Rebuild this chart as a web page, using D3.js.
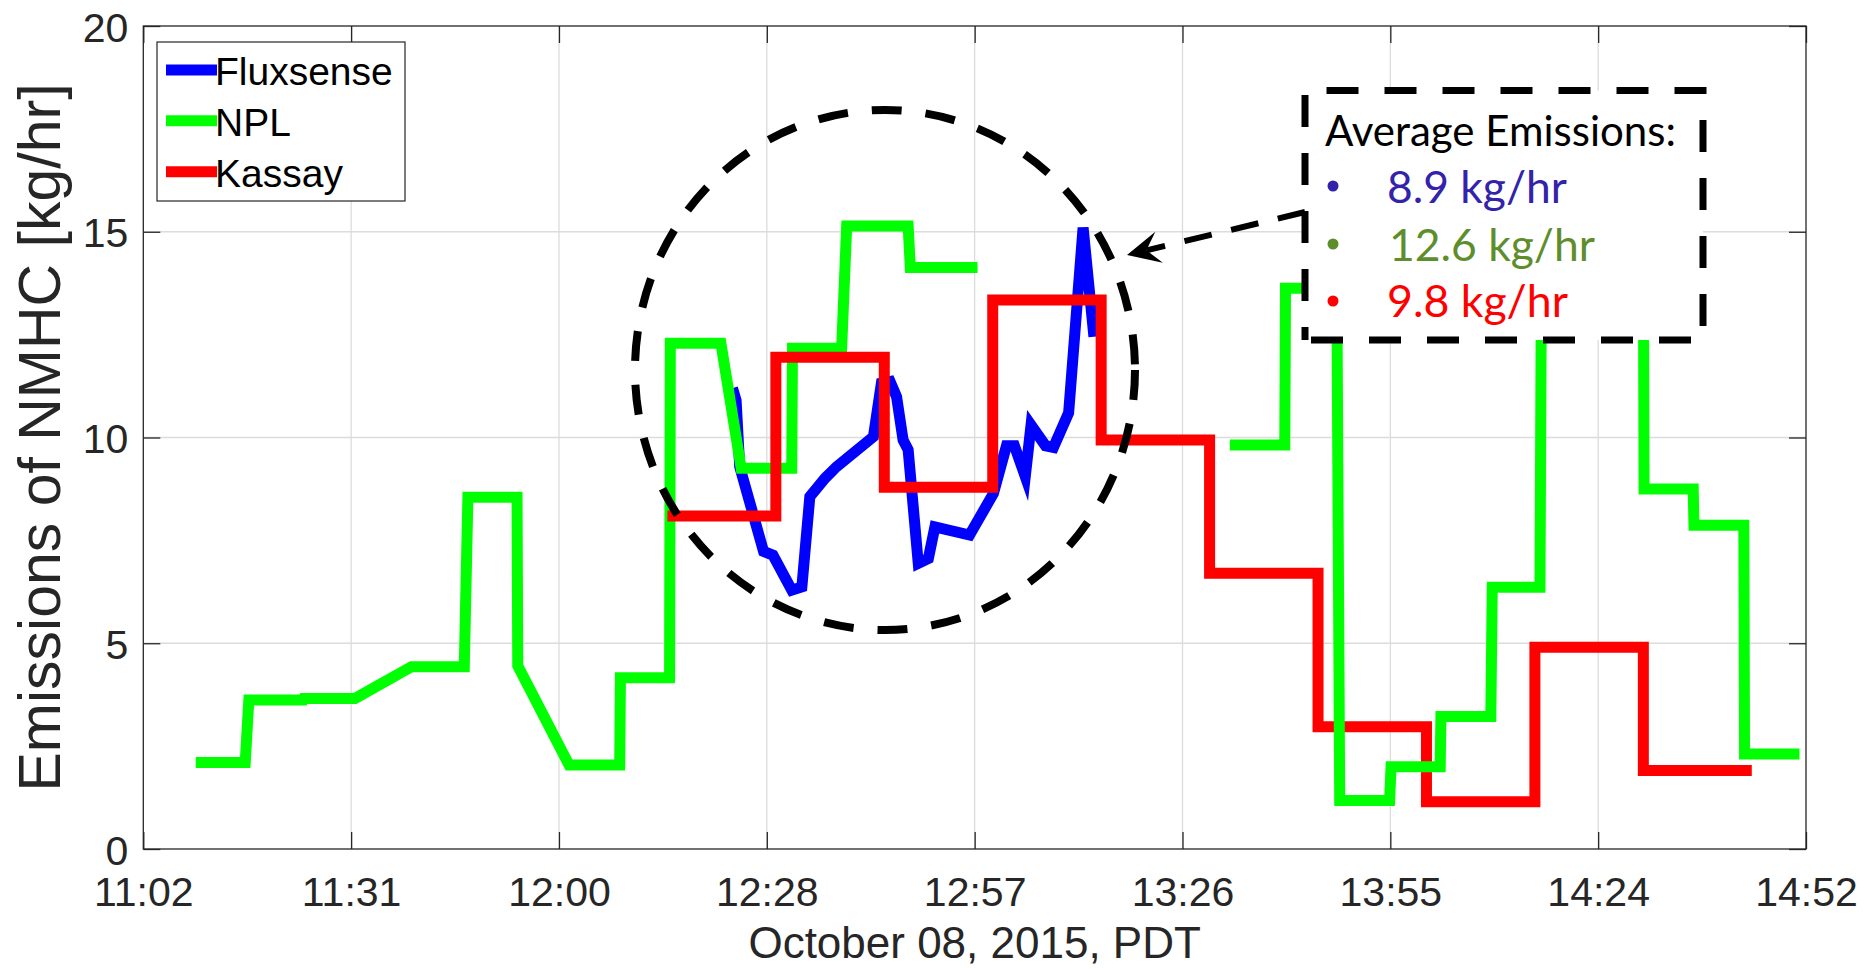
<!DOCTYPE html>
<html>
<head>
<meta charset="utf-8">
<script src="https://cdn.jsdelivr.net/npm/d3@7"></script>
<style>
  body { margin: 0; background: #fff; }
  svg { display: block; }
</style>
</head>
<body>
<svg id="svg" width="1867" height="969"></svg>
<script>
// times are minutes after 11:00 PDT, Oct 08 2015; values in kg/hr
var fluxTime = [84.0, 84.5, 85.0, 88.3, 89.6, 92.2, 93.6, 94.7, 96.8, 98.4, 103.5, 104.6, 105.8, 106.7, 107.6, 108.3, 109.7, 111.1, 112.0, 116.8, 120.1, 121.9, 123.0, 124.5, 125.3, 127.3, 128.4, 130.5, 132.5, 134.0];
var fluxValue = [11.2, 10.9, 9.29, 7.23, 7.14, 6.29, 6.37, 8.56, 9.01, 9.29, 10.02, 11.32, 11.36, 10.99, 9.94, 9.70, 6.94, 7.06, 7.83, 7.63, 8.64, 9.8, 9.8, 9.05, 10.3, 9.8, 9.76, 10.6, 15.1, 12.45];

// NPL comes in two pieces (gap between them)
var nplTimeA = [9.75, 16.6, 17.1, 24.6, 24.7, 31.8, 39.6, 46.9, 47.4, 54.2, 54.3, 61.4, 68.4, 68.5, 75.3, 75.4, 82.4, 85.2, 92.2, 92.3, 99.1, 99.8, 108.3, 108.6, 117.9];
var nplValueA = [2.10, 2.10, 3.62, 3.62, 3.66, 3.66, 4.43, 4.43, 8.55, 8.55, 4.45, 2.04, 2.04, 4.16, 4.16, 12.29, 12.29, 9.25, 9.25, 12.17, 12.17, 15.14, 15.14, 14.13, 14.13];
var nplTimeB = [152.8, 160.4, 160.5, 167.6, 168.0, 174.9, 175.1, 181.9, 182.0, 188.9, 189.1, 195.7, 195.9, 202.9, 203.0, 210.0, 210.1, 216.9, 217.0, 223.9, 224.0, 231.6];
var nplValueB = [9.82, 9.82, 13.63, 13.63, 1.18, 1.18, 2.0, 2.0, 3.22, 3.22, 6.36, 6.36, 13.9, 13.9, 14.6, 14.6, 8.75, 8.75, 7.87, 7.87, 2.31, 2.31];

// Kassay: 15 minute blocks
var kassayEdges = [75, 90, 105, 120, 135, 150, 165, 180, 195, 210, 225];
var kassayValue = [8.09, 11.95, 8.79, 13.34, 9.94, 6.70, 2.97, 1.15, 4.90, 1.91];

var seriesNames = ["Fluxsense", "NPL", "Kassay"];
var seriesColors = ["#0000ff", "#00ff00", "#ff0000"];
var averageText = ["8.9 kg/hr", "12.6 kg/hr", "9.8 kg/hr"];
var averageColors = ["#3322aa", "#5e8e2c", "#ff0000"];

var yTicks = [0, 5, 10, 15, 20];
var xTickLabels = ["11:02", "11:31", "12:00", "12:28", "12:57", "13:26", "13:55", "14:24", "14:52"];
var axisStart = 2.5, axisEnd = 232.5; // minutes after 11:00

var t0 = new Date(2015, 9, 8, 11, 0, 0);
function toDate(m){ return new Date(t0.getTime() + m * 60000); }

var svg = d3.select("#svg");
var plotL = 143.3, plotR = 1806, plotT = 26, plotB = 849;
var ink = "#262626";

var x = d3.scaleTime().domain([toDate(axisStart), toDate(axisEnd)]).range([plotL, plotR]);
var y = d3.scaleLinear().domain([0, 20]).range([plotB, plotT]);
var xTickVals = xTickLabels.map(function(d, i){ return toDate(axisStart + i * (axisEnd - axisStart) / (xTickLabels.length - 1)); });

svg.append("rect").attr("width", 1867).attr("height", 969).attr("fill", "#fff");

// grid
var grid = svg.append("g").attr("stroke", "#dcdcdc").attr("stroke-width", 1.3);
grid.selectAll("line.gx").data(xTickVals.slice(1, -1)).enter().append("line")
  .attr("x1", function(d){ return x(d); }).attr("x2", function(d){ return x(d); })
  .attr("y1", plotT).attr("y2", plotB);
grid.selectAll("line.gy").data(yTicks.slice(1, -1)).enter().append("line")
  .attr("y1", function(d){ return y(d); }).attr("y2", function(d){ return y(d); })
  .attr("x1", plotL).attr("x2", plotR);

// axes (ticks inward on all four sides)
var tl = 17;
function styleAxis(g){
  g.selectAll(".domain").remove();
  g.selectAll(".tick line").attr("stroke", ink).attr("stroke-width", 1.3);
  g.selectAll(".tick text").attr("fill", ink).attr("font-family", "'Liberation Sans', Arial, sans-serif").attr("font-size", 41);
}
var xAxis = svg.append("g").attr("transform", "translate(0," + plotB + ")")
  .call(d3.axisBottom(x).tickValues(xTickVals).tickSize(-tl).tickPadding(0)
    .tickFormat(function(d, i){ return xTickLabels[i]; }));
styleAxis(xAxis);
xAxis.selectAll(".tick text").attr("y", 57).attr("dy", null);
svg.append("g").attr("transform", "translate(0," + plotT + ")")
  .call(d3.axisTop(x).tickValues(xTickVals).tickSize(-tl).tickFormat(""))
  .call(styleAxis);
var yAxis = svg.append("g").attr("transform", "translate(" + plotL + ",0)")
  .call(d3.axisLeft(y).tickValues(yTicks).tickSize(-tl).tickPadding(0));
styleAxis(yAxis);
yAxis.selectAll(".tick text").attr("x", -15).attr("dy", 15);
svg.append("g").attr("transform", "translate(" + plotR + ",0)")
  .call(d3.axisRight(y).tickValues(yTicks).tickSize(-tl).tickFormat(""))
  .call(styleAxis);

// data lines
var plot = svg.append("g");
var line = d3.line().x(function(d){ return x(toDate(d[0])); }).y(function(d){ return y(d[1]); });
function pairs(t, v){ return t.map(function(d, i){ return [d, v[i]]; }); }
function drawLine(pts, color, curve){
  plot.append("path").datum(pts)
    .attr("d", line.curve(curve || d3.curveLinear)(pts))
    .attr("fill", "none").attr("stroke", color).attr("stroke-width", 11)
    .attr("stroke-linejoin", "miter").attr("stroke-miterlimit", 10);
}
var kassayPts = pairs(kassayEdges.slice(0, -1), kassayValue);
kassayPts.push([kassayEdges[kassayEdges.length - 1], kassayValue[kassayValue.length - 1]]);

drawLine(pairs(fluxTime, fluxValue), seriesColors[0]);
drawLine(pairs(nplTimeA, nplValueA), seriesColors[1]);
drawLine(kassayPts, seriesColors[2], d3.curveStepAfter);
drawLine(pairs(nplTimeB, nplValueB), seriesColors[1]);

// axis box
svg.append("rect").attr("x", plotL).attr("y", plotT).attr("width", plotR - plotL).attr("height", plotB - plotT)
  .attr("fill", "none").attr("stroke", ink).attr("stroke-width", 1.3);

// axis labels
svg.append("text").attr("x", (plotL + plotR) / 2).attr("y", 958).attr("text-anchor", "middle")
  .attr("font-family", "'Liberation Sans', Arial, sans-serif").attr("font-size", 44).attr("fill", ink)
  .text("October 08, 2015, PDT");
svg.append("text").attr("transform", "translate(60," + (plotT + plotB) / 2 + ") rotate(-90)")
  .attr("text-anchor", "middle")
  .attr("font-family", "'Liberation Sans', Arial, sans-serif").attr("font-size", 59).attr("fill", ink)
  .text("Emissions of NMHC [kg/hr]");

// legend
var lg = svg.append("g");
lg.append("rect").attr("x", 157).attr("y", 42).attr("width", 248).attr("height", 159)
  .attr("fill", "#fff").attr("stroke", ink).attr("stroke-width", 1.2);
var rowY = [70, 120.7, 171.7];
seriesNames.forEach(function(name, i){
  lg.append("line").attr("x1", 166).attr("x2", 217).attr("y1", rowY[i]).attr("y2", rowY[i])
    .attr("stroke", seriesColors[i]).attr("stroke-width", 11);
  lg.append("text").attr("x", 215).attr("y", rowY[i] + 15)
    .attr("font-family", "'Liberation Sans', Arial, sans-serif").attr("font-size", 39).attr("fill", "#000")
    .text(name);
});

// annotations
var ann = svg.append("g");
ann.append("ellipse").attr("cx", 885).attr("cy", 370).attr("rx", 250).attr("ry", 260)
  .attr("fill", "none").attr("stroke", "#000").attr("stroke-width", 8).attr("stroke-dasharray", "30 24");

var a0 = [1305, 212], a1 = [1127, 255];
var dx = a1[0] - a0[0], dy = a1[1] - a0[1], len = Math.sqrt(dx * dx + dy * dy);
var ux = dx / len, uy = dy / len, nx = -uy, ny = ux;
function pt(back, side){ return [a1[0] - ux * back + nx * side, a1[1] - uy * back + ny * side]; }
var notch = pt(20, 0);
ann.append("line").attr("x1", a0[0]).attr("y1", a0[1]).attr("x2", notch[0]).attr("y2", notch[1])
  .attr("stroke", "#000").attr("stroke-width", 6).attr("stroke-dasharray", "28 20");
ann.append("path").attr("d", d3.line()([a1, pt(33, 16), notch, pt(33, -16)]) + "Z").attr("fill", "#000");

// average emissions box
var bx = 1305, by = 90.5, bw = 398, bh = 249.5;
ann.append("rect").attr("x", bx).attr("y", by).attr("width", bw).attr("height", bh).attr("fill", "#fff");
ann.append("path")
  .attr("d", "M" + bx + "," + (by + bh) + "V" + by + "H" + (bx + bw) + "V" + (by + bh) + "Z")
  .attr("fill", "none").attr("stroke", "#000").attr("stroke-width", 7)
  .attr("stroke-dasharray", "32 26").attr("stroke-dashoffset", 19);

var boxFont = "Lato, 'Open Sans', sans-serif";
function fitWidth(sel, w){
  var cur = sel.node().getComputedTextLength();
  sel.attr("font-size", parseFloat(sel.attr("font-size")) * w / cur);
}
var head = ann.append("text").attr("x", 1325).attr("y", 146)
  .attr("font-family", boxFont).attr("font-size", 42).attr("fill", "#000").text("Average Emissions:");
fitWidth(head, 351);
var textY = [203, 261, 317], textX = [1387, 1389, 1387], textW = [180, 206, 181], dotY = [186, 244, 301];
averageText.forEach(function(s, i){
  ann.append("circle").attr("cx", 1333).attr("cy", dotY[i]).attr("r", 5.5).attr("fill", averageColors[i]);
  var t = ann.append("text").attr("x", textX[i]).attr("y", textY[i])
    .attr("font-family", boxFont).attr("font-size", 42).attr("fill", averageColors[i]).text(s);
  fitWidth(t, textW[i]);
});
</script>
</body>
</html>
